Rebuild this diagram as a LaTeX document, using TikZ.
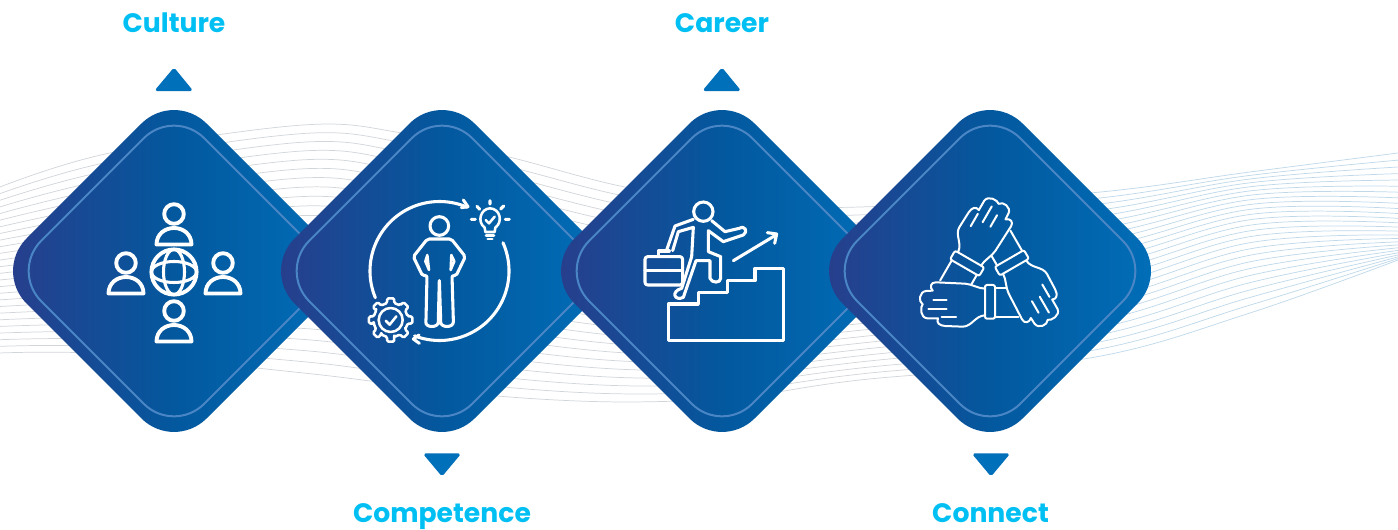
\documentclass[tikz,border=0pt]{standalone}
\usepackage{fontspec}
\newfontfamily\pop{Poppins}
\definecolor{tipL}{HTML}{2B3C8B}
\definecolor{tipM}{HTML}{03589E}
\definecolor{tipR}{HTML}{0070BA}
\definecolor{ringc}{HTML}{4A86C5}
\definecolor{labelc}{HTML}{00BFF3}
\definecolor{waveg}{HTML}{D2D5DA}
\definecolor{waveb}{HTML}{BFD9EA}
\tikzset{
  lab/.style={font=\pop\bfseries\fontsize{20pt}{22pt}\selectfont,text=labelc,inner sep=0pt,anchor=base},
  mark tri/.style={fill=tipR,draw=tipR,line width=1pt,line join=round,rounded corners=1.2pt},
  icw/.style={draw=white,line width=2.9pt,line cap=round,line join=round},
  ic/.style={draw=white,line width=2.3pt,line cap=round,line join=round},
  icm/.style={draw=white,line width=1.9pt,line cap=round,line join=round},
  ict/.style={draw=white,line width=1.5pt,line cap=round,line join=round},
  zoomed/.style={shift={(#1)},scale=1/3},
  wave/.style={line width=0.55pt}
}
\newcommand\Dia[1]{%
  \path[left color=tipL,right color=tipR,middle color=tipM,rounded corners=34.5pt]
    (#1-180,271) -- (#1,91) -- (#1+180,271) -- (#1,451) -- cycle;
  \draw[ringc,line width=1.5pt,rounded corners=32pt]
    (#1-163,271) -- (#1,108) -- (#1+163,271) -- (#1,434) -- cycle;
}
\newcommand\Pers[2]{%
  \draw[icw] (#1,#2) circle (9.8);
  \draw[icw] (#1-17.5,#2+30.5) .. controls (#1-17.5,#2+20) and (#1-9,#2+14) .. (#1,#2+14)
     .. controls (#1+9,#2+14) and (#1+17.5,#2+20) .. (#1+17.5,#2+30.5) -- cycle;
}
\newcommand\Wave[1]{%
  \foreach \t in {0,0.04,...,1.001}{
    \draw[wave,#1] plot[smooth,tension=.6] coordinates {
      (0,{\Yv{187}{270}{353}}) (110,{\Yv{153}{258}{354}}) (303,{\Yv{125}{240}{373}})
      (402,{\Yv{133}{255}{385}}) (509,{\Yv{157}{278}{397}}) (625,{\Yv{187}{298}{402}})
      (740,{\Yv{203}{305}{397}}) (860,{\Yv{207}{300}{380}}) (1090,{\Yv{193}{272}{358}})
      (1250,{\Yv{172}{228}{313}}) (1398,{\Yv{153}{225}{260}}) };
  }
}
\newcommand\Yv[3]{(1-\t)*(1-2*\t)*#1+4*\t*(1-\t)*#2+\t*(2*\t-1)*#3}
\newcommand\Hand{%
  \draw[ict] (255,296) .. controls (235,296) and (215,282) .. (195,281) -- (108,277)
    .. controls (92,276) and (88,292) .. (98,302) -- (78,303)
    .. controls (58,305) and (54,335) .. (68,343)
    .. controls (60,350) and (60,383) .. (82,385) -- (114,385)
    .. controls (108,398) and (118,407) .. (135,408) -- (188,410)
    .. controls (215,410) and (225,378) .. (254,376);
  \draw[ict] (100,330) -- (140,330) (85,357) -- (140,357) (125,382) -- (168,382);
  \draw[ict,rounded corners=1.5pt] (255,285) rectangle (285,386);
  \draw[ict] (285,293) -- (318,293) (285,380) -- (355,380);
}
\begin{document}
\begin{tikzpicture}[x=0.75pt,y=0.75pt,yscale=-1]
\useasboundingbox (0,0) rectangle (1398,530);
% background waves
\begin{scope}
  \clip (0,100) rectangle (990,420);
  \Wave{waveg}
\end{scope}
\begin{scope}
  \clip (990,100) rectangle (1398,420);
  \Wave{waveb}
\end{scope}
% diamonds
\Dia{174}\Dia{442}\Dia{722}\Dia{990}
% culture icon
\Pers{174}{214}\Pers{126}{263}\Pers{223}{263}\Pers{174}{311}
\draw[icw] (174,272) circle (22.6);
\draw[ic] (174,272) ellipse (10.5 and 22.6) (174,272) ellipse (22.6 and 10.5);
% competence icon
\draw[ic] (439.5,271) ++(157.4:69.5) arc[start angle=157.4,end angle=293.5,radius=69.5];
\draw[ic] (439.5,271) ++(-24:69.5) arc[start angle=-24,end angle=111,radius=69.5];
\begin{scope}[zoomed={350,190}]
  \draw[ic] (340,30) -- (354,50) -- (334,53);
  \draw[ic] (207,435) -- (190,447) -- (208,460);
  \draw[ic] (268,108) circle (28);
  \draw[ic,rounded corners=1.5pt] (232,147) -- (304,147) -- (346,200) -- (318,258) -- (306,256)
     -- (310,390) .. controls (310,414) and (272,414) .. (272,390) -- (268,268)
     -- (265,390) .. controls (265,414) and (226,414) .. (228,390) -- (231,256)
     -- (218,258) -- (190,200) -- cycle;
  \draw[icm] (232,195) -- (226,214) -- (237,240) -- cycle (304,195) -- (313,214) -- (302,240) -- cycle;
  % bulb
  \draw[icm] (406,126) -- (404,113) .. controls (380,95) and (392,56) .. (420,55)
     .. controls (450,56) and (460,95) .. (436,113) -- (434,126) -- cycle;
  \draw[icm] (408,136) -- (432,136) (413,147) -- (427,147);
  \draw[icm] (407,90) -- (417,100) -- (434,80);
  \draw[ic] (420,32) -- (420,42) (381,49) -- (389,58) (461,48) -- (452,57)
     (364,88) -- (376,88) (466,88) -- (478,88);
  % gear
  \begin{scope}[shift={(122,390)}]
    \draw[icm,rounded corners=1pt] (-12:52) \foreach \a in {0,45,...,315}{
        -- (\a-12:52) -- (\a-9:66) -- (\a+9:66) -- (\a+12:52) -- (\a+33:52)} -- cycle;
    \draw[icm] (0,0) circle (36);
    \draw[icm] (-15,2) -- (-3,14) -- (17,-11);
  \end{scope}
\end{scope}
% career icon
\begin{scope}[zoomed={630,190}]
  \draw[ic] (115,342) -- (205,342) -- (205,308) -- (292,308) -- (292,272) -- (375,272)
     -- (375,235) -- (460,235) -- (460,452) -- (115,452) -- cycle;
  \draw[ic] (310,212) -- (438,135) (412,128) -- (440,132) -- (434,160);
  \draw[ic] (220,65) circle (29);
  \draw[ic] (190,88) -- (135,108) -- (110,180);
  \draw[ic] (128,182) -- (145,125) -- (190,112) -- (185,200) -- (155,295)
     .. controls (120,305) and (135,335) .. (160,322) -- (198,212) -- (240,212) -- (240,265)
     .. controls (245,280) and (272,280) .. (272,265) -- (272,200) -- (235,185) -- (235,122)
     -- (280,155) -- (340,135) .. controls (355,125) and (345,105) .. (328,115) -- (285,125) -- (245,92);
  \draw[ic,rounded corners=2pt] (45,200) rectangle (158,285);
  \draw[ic] (45,242) -- (158,242) (85,197) -- (85,183) -- (118,183);
\end{scope}
% connect icon
\begin{scope}[zoomed={900,190}]
  \Hand
  \begin{scope}[rotate around={120:(269,258)}]\Hand\end{scope}
  \begin{scope}[rotate around={240:(269,258)}]\Hand\end{scope}
\end{scope}
% markers
\draw[mark tri] (155.5,90.5) -- (192,90.5) -- (174,68.5) -- cycle;
\draw[mark tri] (703.5,90.5) -- (740,90.5) -- (722,68.5) -- cycle;
\draw[mark tri] (424,454) -- (460,454) -- (442,475.5) -- cycle;
\draw[mark tri] (973,454) -- (1009,454) -- (991,475.5) -- cycle;
% labels
\node[lab] (culture) at (174,33) {Culture};
\node[lab] (career) at (722,33) {Career};
\node[lab] (competence) at (442,522) {Competence};
\node[lab] (connect) at (990.5,522) {Connect};
\end{tikzpicture}
\end{document}
